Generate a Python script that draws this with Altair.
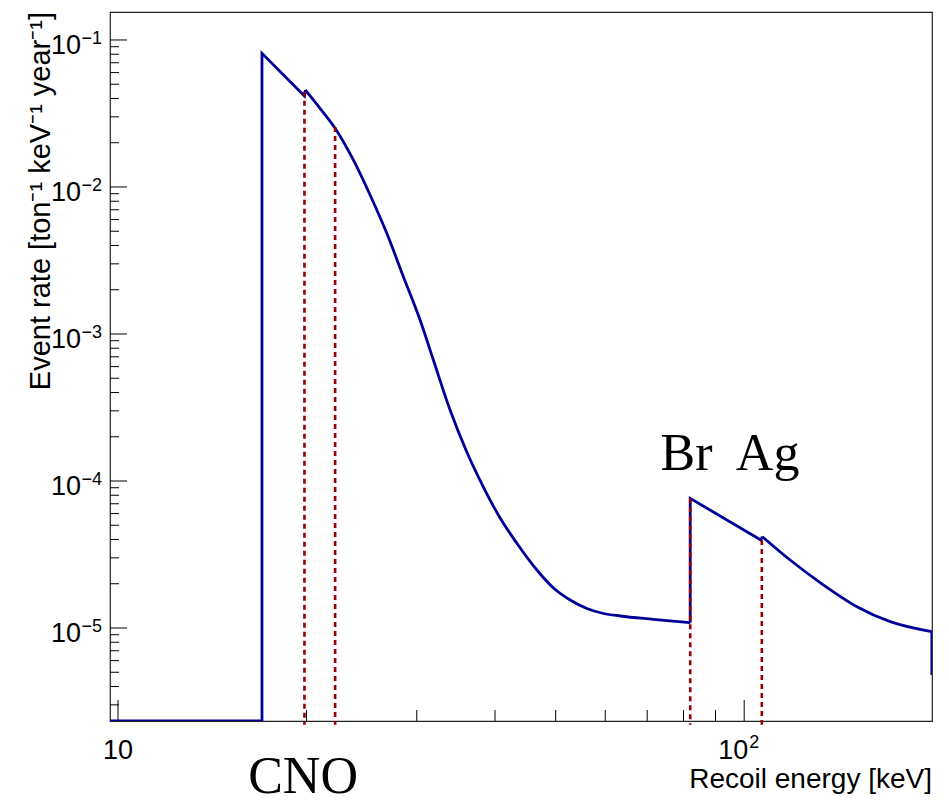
import altair as alt
import pandas as pd

# ---- data ----
# straight pieces of the histogram outline (threshold, edges, jumps)
lin_energy = [9.71, 16.98, 16.98, 19.85, 19.92,
              82.0, 82.0, 106.3, 106.9,
              199.4, 199.4]
lin_rate = [2.33e-6, 2.33e-6, 0.0812, 0.0416, 0.0457,
            1.087e-5, 7.62e-5, 3.97e-5, 4.18e-5,
            9.44e-6, 4.79e-6]
lin_seg = [0, 0, 0, 0, 0, 1, 1, 1, 1, 2, 2]

# smooth pieces (CNO falloff, Ag falloff)
smooth_energy = [19.92, 21.02, 22.22, 23.76, 25.27, 26.87, 28.56, 30.37, 31.89, 33.91,
                 36.06, 38.33, 40.76, 43.35, 46.66, 49.6, 52.73, 56.08, 59.6, 63.4,
                 71.6, 82.0,
                 106.9, 118.4, 133.9, 151.4, 171.1, 199.4]
smooth_rate = [0.0457, 0.0343, 0.0251, 0.01527, 0.00882, 0.00484, 0.002454, 0.001245, 6.65e-4, 3.04e-4,
               1.575e-4, 9.10e-5, 5.60e-5, 3.77e-5, 2.48e-5, 1.871e-5, 1.551e-5, 1.357e-5, 1.255e-5, 1.207e-5,
               1.146e-5, 1.087e-5,
               4.18e-5, 2.90e-5, 1.96e-5, 1.396e-5, 1.104e-5, 9.44e-6]
smooth_seg = [0] * 22 + [1] * 6

edge_energy = [19.85, 22.22, 82.0, 106.7]
edge_top = [0.0445, 0.0256, 7.62e-5, 3.97e-5]
edge_bottom = 2.2e-6

x_major = [10, 100]
x_minor = [20, 30, 40, 50, 60, 70, 80, 90]
y_major = [1e-1, 1e-2, 1e-3, 1e-4, 1e-5]
y_major_exp = ["\u22121", "\u22122", "\u22123", "\u22124", "\u22125"]
y_minor = [k * 10.0 ** e for e in range(-6, -1) for k in range(2, 10)]
y_minor = [v for v in y_minor if 2.33e-6 < v < 0.155 and v not in y_major]

labels_el = ["Br", "Ag"]
labels_el_x = [80.9, 109.0]
labels_el_y = 1.19e-4

X_DOMAIN = [9.71, 199.5]
Y_DOMAIN = [2.33e-6, 0.155]
W, H = 822, 709

xs = alt.Scale(type="log", domain=X_DOMAIN, nice=False)
ys = alt.Scale(type="log", domain=Y_DOMAIN, nice=False)

lin_df = pd.DataFrame({"E": lin_energy, "R": lin_rate, "s": lin_seg,
                       "i": list(range(len(lin_energy)))})
smooth_df = pd.DataFrame({"E": smooth_energy, "R": smooth_rate, "s": smooth_seg,
                          "i": list(range(len(smooth_energy)))})
edges = pd.DataFrame({"E": edge_energy, "R": edge_top, "R2": [edge_bottom] * len(edge_energy)})
xmaj = pd.DataFrame({"E": x_major})
xmin = pd.DataFrame({"E": x_minor})
ymaj = pd.DataFrame({"R": y_major, "base": ["10"] * len(y_major), "exp": y_major_exp})
ymin = pd.DataFrame({"R": y_minor})
el = pd.DataFrame({"E": labels_el_x, "R": [labels_el_y] * 2, "t": labels_el})

X = lambda f="E": alt.X(f + ":Q", scale=xs, axis=None)
Y = lambda f="R": alt.Y(f + ":Q", scale=ys, axis=None)

BLUE = "#000099"
line_lin = alt.Chart(lin_df).mark_line(color=BLUE, strokeWidth=2.8, clip=True).encode(
    x=X(), y=Y(), detail="s:N", order="i:Q")
line_smooth = alt.Chart(smooth_df).mark_line(color=BLUE, strokeWidth=2.8, clip=True,
                                             interpolate="monotone").encode(
    x=X(), y=Y(), detail="s:N", order="i:Q")

red = alt.Chart(edges).mark_rule(color="#990000", strokeWidth=2.6, strokeDash=[5, 4]).encode(
    x=X(), y=Y(), y2="R2:Q")

xt_major = alt.Chart(xmaj).mark_rule(color="black", strokeWidth=1).encode(
    x=X(), y=alt.value(H), y2=alt.value(H - 21))
xt_minor = alt.Chart(xmin).mark_rule(color="black", strokeWidth=1).encode(
    x=X(), y=alt.value(H), y2=alt.value(H - 11))
yt_major = alt.Chart(ymaj).mark_rule(color="black", strokeWidth=1).encode(
    y=Y(), x=alt.value(0), x2=alt.value(17))
yt_minor = alt.Chart(ymin).mark_rule(color="black", strokeWidth=1).encode(
    y=Y(), x=alt.value(0), x2=alt.value(9))

SANS = "Liberation Sans"
SERIF = "Liberation Serif"

ylab_base = alt.Chart(ymaj).mark_text(font=SANS, fontSize=27, align="right", baseline="alphabetic",
                                      dx=-29, dy=14, color="black").encode(
    y=Y(), x=alt.value(0), text="base:N")
ylab_exp = alt.Chart(ymaj).mark_text(font=SANS, fontSize=18, align="right", baseline="alphabetic",
                                     dx=-8, dy=4.5, color="black").encode(
    y=Y(), x=alt.value(0), text="exp:N")

xlab10 = alt.Chart(pd.DataFrame({"E": [10], "t": ["10"]})).mark_text(
    font=SANS, fontSize=27, align="center", baseline="alphabetic", color="black").encode(
    x=X(), y=alt.value(H + 38), text="t:N")
xlab100 = alt.Chart(pd.DataFrame({"E": [100], "t": ["10"]})).mark_text(
    font=SANS, fontSize=27, align="right", baseline="alphabetic", dx=4, color="black").encode(
    x=X(), y=alt.value(H + 38), text="t:N")
xlab100e = alt.Chart(pd.DataFrame({"E": [100], "t": ["2"]})).mark_text(
    font=SANS, fontSize=18, align="left", baseline="alphabetic", dx=5, color="black").encode(
    x=X(), y=alt.value(H + 27), text="t:N")

xtitle = alt.Chart(pd.DataFrame({"t": ["Recoil energy [keV]"]})).mark_text(
    font=SANS, fontSize=28, align="right", baseline="alphabetic", color="black").encode(
    x=alt.value(W), y=alt.value(H + 67), text="t:N")
ytitle = alt.Chart(pd.DataFrame({"t": ["Event rate [ton\u207b\u00b9 keV\u207b\u00b9 year\u207b\u00b9]"]})).mark_text(
    font=SANS, fontSize=29, align="right", baseline="alphabetic", angle=270, color="black").encode(
    x=alt.value(-60), y=alt.value(0), text="t:N")

cno = alt.Chart(pd.DataFrame({"E": [19.75], "t": ["CNO"]})).mark_text(
    font=SERIF, fontSize=52, align="center", baseline="alphabetic", color="black").encode(
    x=X(), y=alt.value(H + 72), text="t:N")
eltext = alt.Chart(el).mark_text(
    font=SERIF, fontSize=52, align="center", baseline="alphabetic", color="black").encode(
    x=X(), y=Y(), text="t:N")

chart = alt.layer(
    line_lin, line_smooth, red, xt_major, xt_minor, yt_major, yt_minor,
    ylab_base, ylab_exp, xlab10, xlab100, xlab100e, xtitle, ytitle, cno, eltext
).properties(
    width=W, height=H,
    padding={"left": 110, "top": 12, "right": 17, "bottom": 83},
    autosize=alt.AutoSizeParams(type="none"),
    background="white",
).configure_view(stroke="#222222", strokeWidth=1.2)

chart.save("out.html", embed_options={"renderer": "svg", "actions": False})
